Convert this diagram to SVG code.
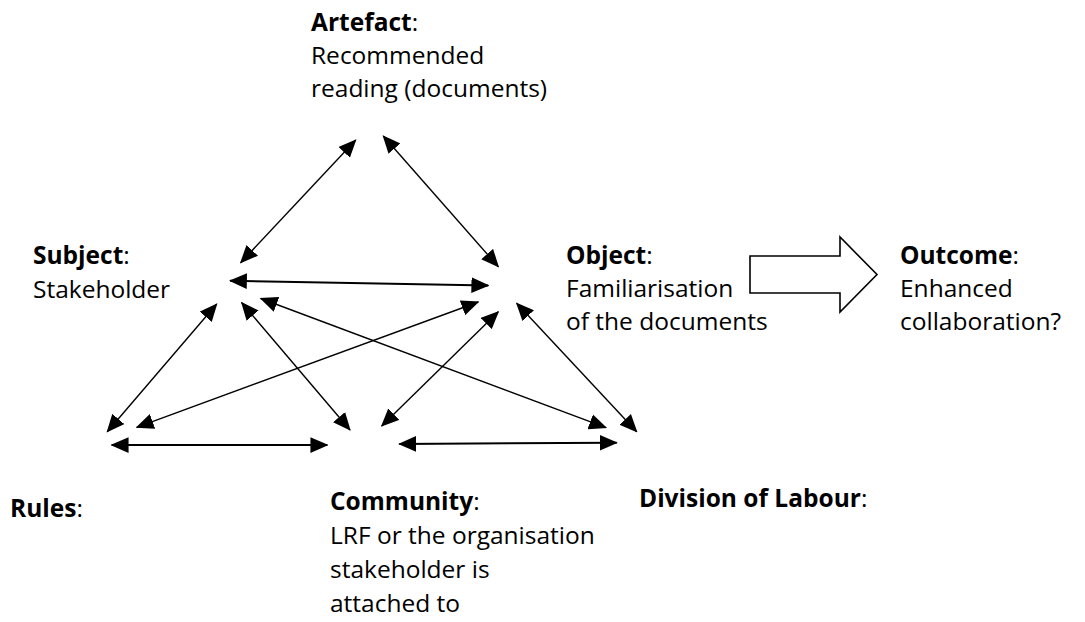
<svg xmlns="http://www.w3.org/2000/svg" width="1085" height="622" viewBox="0 0 1085 622">
  <style>
    .lbl { font-family: "Open Sans", "Noto Sans", "Liberation Sans", sans-serif; font-size: 24.5px; fill: #000; }
    .b { font-weight: 700; }
    .link { stroke: #000; stroke-width: 1.4; fill: none; marker-start: url(#head); marker-end: url(#head); }
    .link.h { stroke-width: 2; }
    .block { fill: #fff; stroke: #000; stroke-width: 1.6; stroke-linejoin: miter; }
  </style>
  <defs>
    <marker id="head" markerUnits="userSpaceOnUse" markerWidth="18" markerHeight="16" viewBox="0 0 16 14" refX="15" refY="7" orient="auto-start-reverse">
      <path d="M0,0 L16,7 L0,14 Z" fill="#000"/>
    </marker>
  </defs>
  <rect width="1085" height="622" fill="#fff"/>

  <!-- double-headed relations between the activity-system elements -->
  <g id="connectors">
    <line class="link" x1="240.7" y1="262.7" x2="355.7" y2="140"/>
    <line class="link" x1="383.3" y1="136" x2="498.3" y2="266.7"/>
    <line class="link h" x1="230" y1="280.7" x2="488.3" y2="285.5"/>
    <line class="link" x1="216.7" y1="304" x2="107.3" y2="431.7"/>
    <line class="link" x1="241.7" y1="302.7" x2="350" y2="430"/>
    <line class="link" x1="260.7" y1="298.5" x2="606" y2="427.7"/>
    <line class="link" x1="478.3" y1="302" x2="136.7" y2="427.3"/>
    <line class="link" x1="498.3" y1="311.7" x2="381.7" y2="426"/>
    <line class="link" x1="516.7" y1="303.3" x2="636.7" y2="431.7"/>
    <line class="link h" x1="111.7" y1="445" x2="327.3" y2="445"/>
    <line class="link h" x1="399.3" y1="444" x2="616.7" y2="442.7"/>
    <!-- transition from object to outcome -->
    <polygon id="object-to-outcome" class="block" points="750,256 840,256 840,237 877,274.5 840,312 840,293 750,293"/>
  </g>

  <g id="artefact">
    <text class="lbl" x="311" y="31"><tspan class="b">Artefact</tspan>:</text>
    <text class="lbl" x="311" y="64">Recommended</text>
    <text class="lbl" x="311" y="97">reading (documents)</text>
  </g>

  <g id="subject">
    <text class="lbl" x="33" y="264"><tspan class="b">Subject</tspan>:</text>
    <text class="lbl" x="33" y="298">Stakeholder</text>
  </g>

  <g id="object">
    <text class="lbl" x="566" y="264"><tspan class="b">Object</tspan>:</text>
    <text class="lbl" x="566" y="297">Familiarisation</text>
    <text class="lbl" x="566" y="330">of the documents</text>
  </g>

  <g id="outcome">
    <text class="lbl" x="900" y="264"><tspan class="b">Outcome</tspan>:</text>
    <text class="lbl" x="900" y="297">Enhanced</text>
    <text class="lbl" x="900" y="330">collaboration?</text>
  </g>

  <g id="rules">
    <text class="lbl" x="10" y="517"><tspan class="b">Rules</tspan>:</text>
  </g>

  <g id="community">
    <text class="lbl" x="330" y="510"><tspan class="b">Community</tspan>:</text>
    <text class="lbl" x="330" y="544">LRF or the organisation</text>
    <text class="lbl" x="330" y="578">stakeholder is</text>
    <text class="lbl" x="330" y="612">attached to</text>
  </g>

  <g id="division">
    <text class="lbl" x="639" y="507"><tspan class="b">Division of Labour</tspan>:</text>
  </g>
</svg>
